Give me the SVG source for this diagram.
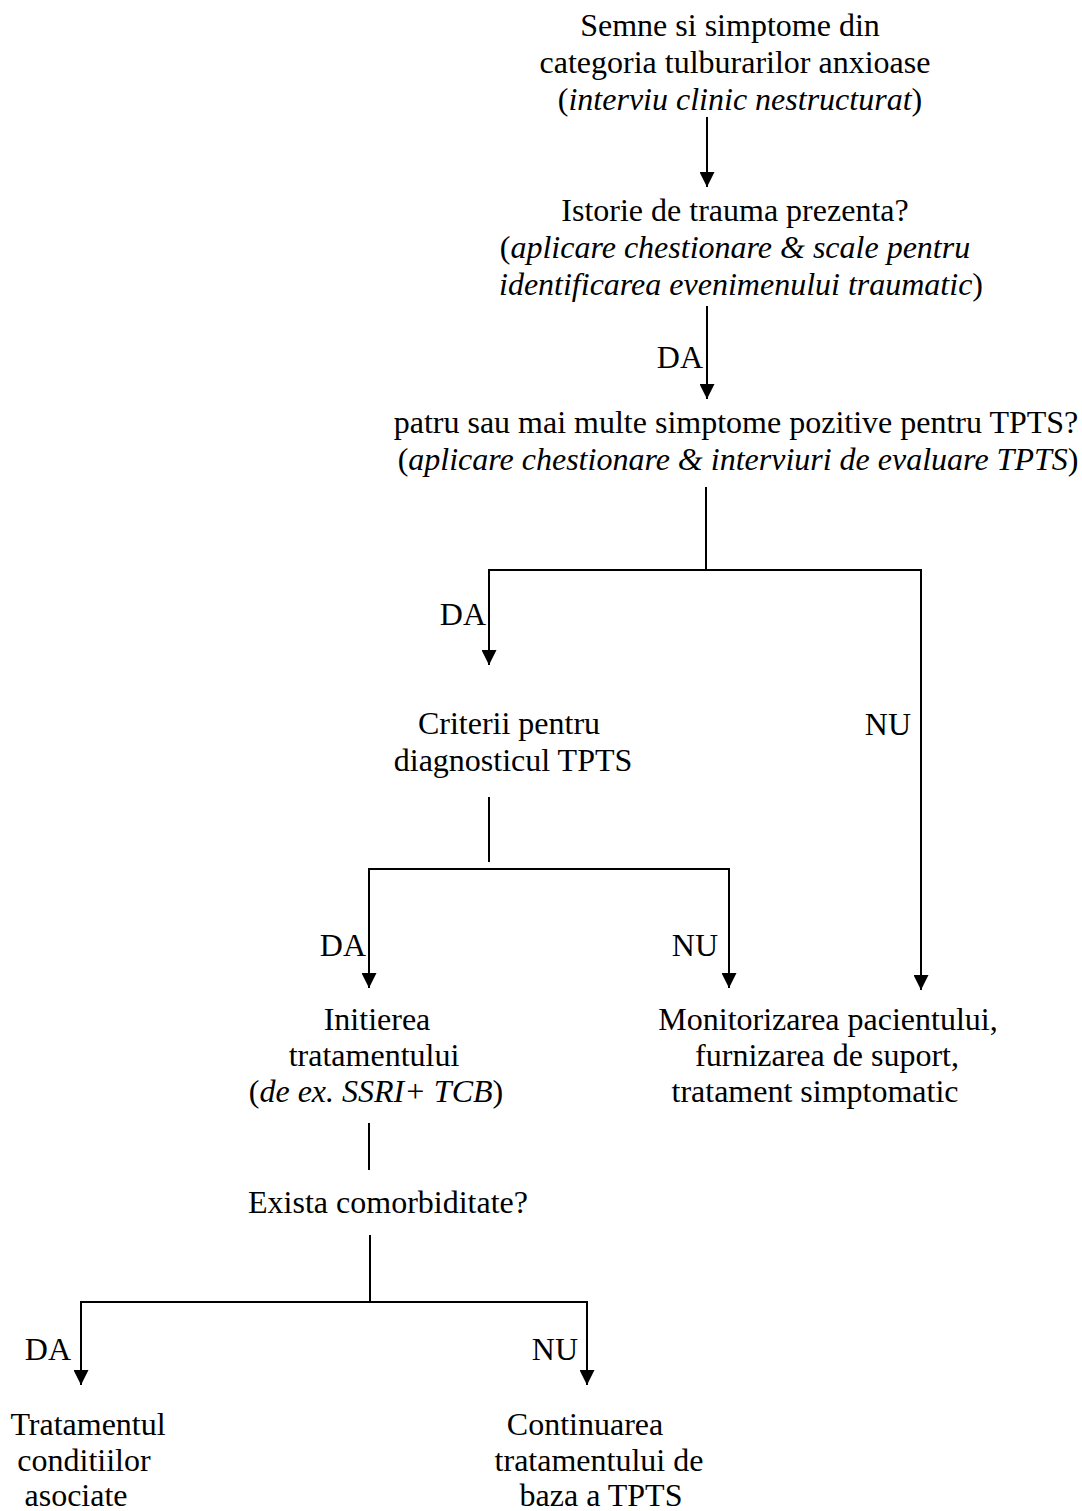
<svg xmlns="http://www.w3.org/2000/svg" width="1082" height="1511" viewBox="0 0 1082 1511">
<style>
text{font-family:"Liberation Serif","Times New Roman",serif;font-size:32px;fill:#000;text-anchor:middle}
.i{font-style:italic}
.lbl{text-anchor:end}
.c{stroke:#000;stroke-width:2;fill:none}
</style>
<defs>
<marker id="ah" markerUnits="userSpaceOnUse" markerWidth="15" markerHeight="15" refX="15" refY="7.5" orient="auto">
<path d="M0,0 L15,7.5 L0,15 z" fill="#000"/>
</marker>
</defs>
<rect width="1082" height="1511" fill="#fff"/>
<g id="connectors">
<line class="c" x1="707" y1="117" x2="707" y2="187" marker-end="url(#ah)"/>
<line class="c" x1="707" y1="306" x2="707" y2="399" marker-end="url(#ah)"/>
<line class="c" x1="706" y1="487" x2="706" y2="570"/>
<polyline class="c" points="489,570 921,570 921,990" marker-end="url(#ah)"/>
<line class="c" x1="489" y1="569" x2="489" y2="665" marker-end="url(#ah)"/>
<line class="c" x1="489" y1="797" x2="489" y2="862"/>
<line class="c" x1="369" y1="869" x2="729" y2="869"/>
<line class="c" x1="369" y1="868" x2="369" y2="988" marker-end="url(#ah)"/>
<line class="c" x1="729" y1="868" x2="729" y2="988" marker-end="url(#ah)"/>
<line class="c" x1="369" y1="1123" x2="369" y2="1170"/>
<line class="c" x1="370" y1="1235" x2="370" y2="1302"/>
<line class="c" x1="81" y1="1302" x2="587" y2="1302"/>
<line class="c" x1="81" y1="1301" x2="81" y2="1385" marker-end="url(#ah)"/>
<line class="c" x1="587" y1="1301" x2="587" y2="1385" marker-end="url(#ah)"/>
<text class="lbl" x="703" y="368">DA</text>
<text class="lbl" x="486" y="625">DA</text>
<text class="lbl" x="911" y="735">NU</text>
<text class="lbl" x="366" y="956">DA</text>
<text class="lbl" x="718" y="956">NU</text>
<text class="lbl" x="71" y="1360">DA</text>
<text class="lbl" x="578" y="1360">NU</text>
</g>
<g id="n1">
<text x="730" y="36">Semne si simptome din</text>
<text x="735" y="73">categoria tulburarilor anxioase</text>
<text x="740" y="110">(<tspan class="i">interviu clinic nestructurat</tspan>)</text>
</g>
<g id="n2">
<text x="735" y="221">Istorie de trauma prezenta?</text>
<text x="735" y="258">(<tspan class="i">aplicare chestionare &amp; scale pentru</tspan></text>
<text x="741" y="295"><tspan class="i">identificarea evenimenului traumatic</tspan>)</text>
</g>
<g id="n3">
<text x="736" y="433">patru sau mai multe simptome pozitive pentru TPTS?</text>
<text x="738" y="470">(<tspan class="i">aplicare chestionare &amp; interviuri de evaluare TPTS</tspan>)</text>
</g>
<g id="n4">
<text x="509" y="734">Criterii pentru</text>
<text x="513" y="771">diagnosticul TPTS</text>
</g>
<g id="n5">
<text x="377" y="1030">Initierea</text>
<text x="374" y="1066">tratamentului</text>
<text x="376" y="1102">(<tspan class="i">de ex. SSRI+ TCB</tspan>)</text>
</g>
<g id="n6">
<text x="828" y="1030">Monitorizarea pacientului,</text>
<text x="827" y="1066">furnizarea de suport,</text>
<text x="815" y="1102">tratament simptomatic</text>
</g>
<g id="n7">
<text x="388" y="1213">Exista comorbiditate?</text>
</g>
<g id="n8">
<text x="88" y="1435">Tratamentul</text>
<text x="84" y="1471">conditiilor</text>
<text x="76" y="1506">asociate</text>
</g>
<g id="n9">
<text x="585" y="1435">Continuarea</text>
<text x="599" y="1471">tratamentului de</text>
<text x="601" y="1506">baza a TPTS</text>
</g>
</svg>
